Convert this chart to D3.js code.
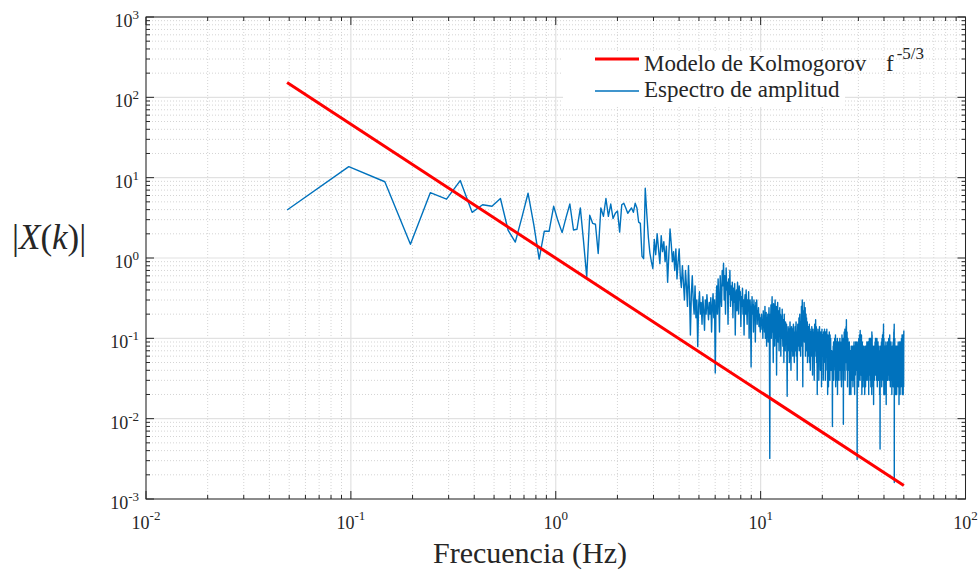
<!DOCTYPE html>
<html><head><meta charset="utf-8">
<script src="https://cdn.jsdelivr.net/npm/d3@7"></script>
<style>
body{margin:0;background:#fff}
text{font-family:"Liberation Serif","Times New Roman",serif;fill:#262626}
</style>
</head><body>
<svg id="chart" width="980" height="571"></svg>
<script>
// ---- data ----
const sampleRate = 100, nfft = 2048;   // frequency step = sampleRate / nfft
const amplitude = [
3.96,13.7,8.9,1.48,6.5,5.4,9.2,3.7,4.6,4.4,
5.5,2.2,1.58,3.2,6.4,2.6,0.97,2.15,2.15,4.4,
2.9,2.07,3.2,4.7,2.23,2.28,4.2,1.6,0.585,3.4,
2.7,2.63,1.14,4.2,3.3,5.5,3.3,4.7,3.1,3.6,
3.85,2.1,4.6,4.8,4.2,3.6,3.9,4.2,3.7,4.8,
4.2,2.8,2.7,1.05,0.98,7.4,3.5,1.8,1.15,0.9,
0.74,1.7,1.1,2.0,1.3,0.85,1.9,1.2,1.6,0.9,
1.4,0.5,1.1,2.3,1.5,0.9,1.2,0.7,1.3,0.55,
0.9,1.3,0.6,0.43,0.8,0.5,0.3,0.7,0.45,0.25,
0.8,0.4,0.11,0.35,0.6,0.3,0.2,0.45,0.18,0.3,
0.079,0.25,0.38,0.2,0.28,0.15,0.33,0.22,0.126,0.3,
0.2,0.35,0.24,0.17,0.28,0.2,0.32,0.12,0.25,0.36,
0.18,0.3,0.037,0.25,0.45,0.2,0.55,0.3,0.12,0.6,
0.35,0.25,0.7,0.45,0.86,0.3,0.6,0.2,0.75,0.4,
0.5,0.15,0.55,0.35,0.7,0.25,0.45,0.3,0.5,0.18,
0.42,0.28,0.48,0.11,0.35,0.4,0.22,0.5,0.3,0.2,
0.45,0.3,0.38,0.14,0.33,0.25,0.42,0.2,0.3,0.11,
0.28,0.35,0.2,0.4,0.25,0.15,0.3,0.22,0.38,0.1,
0.26,0.3,0.18,0.044,0.22,0.33,0.2,0.26,0.12,0.3,
0.18,0.25,0.09,0.28,0.2,0.3,0.15,0.22,0.17,0.24,
0.14,0.2,0.16,0.12,0.18,0.15,0.2,0.13,0.17,0.1,
0.22,0.14,0.19,0.12,0.25,0.1,0.16,0.21,0.08,0.18,
0.13,0.2,0.09,0.15,0.24,0.11,0.0032,0.2,0.14,0.26,
0.1,0.22,0.33,0.12,0.18,0.05,0.27,0.15,0.2,0.08,
0.3,0.17,0.1,0.25,0.035,0.2,0.13,0.28,0.09,0.18,
0.22,0.07,0.16,0.24,0.11,0.2,0.06,0.15,0.19,0.1,
0.23,0.12,0.08,0.17,0.14,0.05,0.2,0.1,0.13,0.07,
0.16,0.11,0.09,0.15,0.06,0.019,0.12,0.08,0.14,0.1,
0.07,0.13,0.05,0.11,0.16,0.08,0.12,0.04,0.1,0.14,
0.07,0.09,0.13,0.06,0.11,0.15,0.08,0.1,0.05,0.12,
0.09,0.14,0.07,0.1,0.16,0.06,0.12,0.09,0.03,0.11,
0.15,0.08,0.13,0.1,0.18,0.07,0.12,0.2,0.09,0.14,
0.06,0.16,0.11,0.25,0.08,0.15,0.3,0.12,0.025,0.18,
0.1,0.22,0.14,0.28,0.09,0.17,0.12,0.24,0.06,0.15,
0.2,0.1,0.18,0.07,0.13,0.16,0.05,0.12,0.09,0.14,
0.06,0.11,0.08,0.15,0.05,0.1,0.13,0.04,0.09,0.12,
0.07,0.1,0.06,0.14,0.08,0.11,0.035,0.09,0.13,0.06,
0.1,0.07,0.12,0.03,0.09,0.15,0.06,0.11,0.08,0.17,
0.07,0.1,0.14,0.05,0.12,0.08,0.02,0.11,0.07,0.13,
0.06,0.09,0.12,0.03,0.1,0.07,0.14,0.06,0.09,0.11,
0.04,0.08,0.12,0.06,0.1,0.025,0.09,0.13,0.07,0.1,
0.06,0.11,0.08,0.03,0.09,0.12,0.06,0.1,0.07,0.13,
0.05,0.09,0.11,0.03,0.08,0.12,0.04,0.1,0.07,0.09,
0.13,0.06,0.1,0.08,0.02,0.11,0.07,0.09,0.025,0.08,
0.1,0.06,0.12,0.07,0.09,0.03,0.11,0.08,0.06,0.1,
0.04,0.06,0.05,0.07,0.04,0.06,0.05,0.03,0.008,0.05,
0.07,0.04,0.08,0.05,0.09,0.03,0.06,0.04,0.08,0.05,
0.1,0.05,0.07,0.06,0.11,0.025,0.08,0.05,0.07,0.09,
0.05,0.08,0.03,0.06,0.1,0.02,0.07,0.09,0.04,0.06,
0.08,0.05,0.09,0.03,0.07,0.04,0.08,0.05,0.1,0.04,
0.06,0.09,0.05,0.07,0.03,0.06,0.09,0.025,0.08,0.05,
0.11,0.05,0.07,0.09,0.04,0.08,0.03,0.1,0.0085,0.06,
0.09,0.05,0.08,0.12,0.04,0.1,0.07,0.13,0.03,0.09,
0.06,0.11,0.06,0.09,0.14,0.05,0.17,0.06,0.1,0.04,
0.12,0.06,0.09,0.025,0.07,0.1,0.05,0.08,0.04,0.06,
0.08,0.04,0.07,0.05,0.09,0.02,0.06,0.05,0.07,0.03,
0.05,0.07,0.04,0.06,0.02,0.05,0.08,0.03,0.06,0.07,
0.04,0.06,0.03,0.08,0.035,0.06,0.07,0.025,0.08,0.05,
0.06,0.035,0.07,0.05,0.09,0.03,0.06,0.08,0.02,0.05,
0.08,0.05,0.07,0.035,0.06,0.09,0.04,0.06,0.08,0.04,
0.07,0.05,0.09,0.04,0.05,0.0031,0.04,0.07,0.03,0.08,
0.04,0.06,0.09,0.05,0.07,0.025,0.1,0.06,0.08,0.04,
0.07,0.11,0.05,0.08,0.1,0.03,0.125,0.06,0.09,0.05,
0.1,0.07,0.035,0.09,0.06,0.11,0.05,0.08,0.02,0.07,
0.06,0.09,0.04,0.07,0.08,0.03,0.07,0.025,0.06,0.08,
0.04,0.06,0.05,0.08,0.03,0.06,0.07,0.04,0.06,0.02,
0.05,0.07,0.035,0.06,0.08,0.025,0.06,0.05,0.08,0.04,
0.06,0.03,0.07,0.05,0.06,0.09,0.035,0.07,0.05,0.07,
0.05,0.08,0.03,0.06,0.09,0.05,0.07,0.06,0.09,0.02,
0.07,0.05,0.08,0.06,0.1,0.035,0.07,0.06,0.09,0.05,
0.1,0.06,0.03,0.08,0.06,0.1,0.025,0.07,0.05,0.09,
0.07,0.04,0.1,0.02,0.12,0.06,0.11,0.07,0.03,0.06,
0.07,0.035,0.06,0.05,0.08,0.025,0.06,0.07,0.015,0.05,
0.06,0.035,0.08,0.05,0.07,0.03,0.08,0.05,0.06,0.04,
0.09,0.05,0.07,0.035,0.1,0.04,0.07,0.06,0.1,0.05,
0.08,0.06,0.09,0.03,0.08,0.05,0.1,0.04,0.07,0.025,
0.08,0.05,0.07,0.035,0.06,0.09,0.05,0.07,0.03,0.05,
0.07,0.04,0.06,0.05,0.08,0.03,0.05,0.07,0.035,0.02,
0.05,0.06,0.04,0.0042,0.035,0.05,0.07,0.03,0.08,0.05,
0.06,0.08,0.04,0.07,0.05,0.09,0.035,0.07,0.025,0.06,
0.1,0.05,0.07,0.09,0.035,0.11,0.06,0.08,0.05,0.1,
0.07,0.03,0.12,0.06,0.15,0.05,0.09,0.02,0.1,0.06,
0.07,0.035,0.08,0.05,0.07,0.02,0.06,0.08,0.04,0.06,
0.05,0.07,0.03,0.06,0.07,0.04,0.09,0.05,0.06,0.015,
0.05,0.07,0.035,0.08,0.05,0.06,0.03,0.07,0.05,0.04,
0.07,0.05,0.09,0.03,0.06,0.08,0.035,0.06,0.07,0.05,
0.08,0.035,0.06,0.1,0.05,0.08,0.06,0.09,0.03,0.07,
0.05,0.08,0.06,0.11,0.035,0.07,0.09,0.05,0.08,0.025,
0.06,0.08,0.05,0.07,0.03,0.09,0.05,0.07,0.035,0.06,
0.05,0.07,0.03,0.06,0.02,0.05,0.07,0.04,0.08,0.05,
0.06,0.03,0.05,0.08,0.04,0.07,0.05,0.09,0.025,0.06,
0.08,0.05,0.1,0.04,0.12,0.06,0.13,0.05,0.15,0.0016,
0.06,0.09,0.035,0.07,0.1,0.05,0.07,0.03,0.08,0.05,
0.07,0.04,0.06,0.02,0.08,0.035,0.07,0.05,0.07,0.03,
0.06,0.08,0.05,0.07,0.02,0.05,0.07,0.035,0.06,0.05,
0.08,0.03,0.07,0.05,0.08,0.035,0.06,0.05,0.07,0.025,
0.09,0.05,0.07,0.04,0.07,0.03,0.08,0.05,0.06,0.015,
0.08,0.05,0.07,0.035,0.08,0.05,0.09,0.03,0.06,0.05,
0.08,0.02,0.06,0.07,0.04,0.07,0.035,0.09,0.04,0.06,
0.025,0.05,0.08,0.035,0.07,0.05,0.1,0.03,0.07,0.08,
0.05,0.09,0.035,0.11,0.06,0.1,0.02,0.07,0.05,0.09,
0.04,0.08,0.06,0.11,0.03,0.09,0.02,0.07,0.05,0.1,
0.06,0.025,0.08,0.125
];
const kolmogorovFreq = [0.048828, 50];
const kolmogorovAmp  = [152.6, 0.00147];
const xTickExponents = [-2, -1, 0, 1, 2];
const yTickExponents = [-3, -2, -1, 0, 1, 2, 3];
const legendLabels = ["Modelo de Kolmogorov", "Espectro de amplitud"];
const legendColors = ["#ff0000", "#0072bd"];
const xLabel = "Frecuencia (Hz)";

// ---- build ----
const df = sampleRate / nfft;
const spectrum = amplitude.map((a, i) => ({f: (i + 1) * df, a}));
const kolmo = kolmogorovFreq.map((f, i) => ({f, a: kolmogorovAmp[i]}));

const L = 146, R = 965.5, T = 17, B = 499;
const x = d3.scaleLog().domain([1e-2, 1e2]).range([L, R]);
const y = d3.scaleLog().domain([1e-3, 1e3]).range([B, T]);
const svg = d3.select("#chart");

const isMajor = v => Math.abs(Math.log10(v) - Math.round(Math.log10(v))) < 1e-9;
const xAll = x.ticks(), yAll = y.ticks();
const xMinor = xAll.filter(v => !isMajor(v)), xMajor = xAll.filter(isMajor);
const yMinor = yAll.filter(v => !isMajor(v)), yMajor = yAll.filter(isMajor);

// grid
const grid = svg.append("g");
grid.selectAll(".gxm").data(xMinor).join("line")
  .attr("x1", d => x(d)).attr("x2", d => x(d)).attr("y1", T).attr("y2", B)
  .attr("stroke", "#d4d4d4").attr("stroke-width", 1).attr("stroke-dasharray", "1,2");
grid.selectAll(".gym").data(yMinor).join("line")
  .attr("y1", d => y(d)).attr("y2", d => y(d)).attr("x1", L).attr("x2", R)
  .attr("stroke", "#d4d4d4").attr("stroke-width", 1).attr("stroke-dasharray", "1,2");
grid.selectAll(".gxM").data(xMajor).join("line")
  .attr("x1", d => x(d)).attr("x2", d => x(d)).attr("y1", T).attr("y2", B)
  .attr("stroke", "#e1e1e1").attr("stroke-width", 1.2);
grid.selectAll(".gyM").data(yMajor).join("line")
  .attr("y1", d => y(d)).attr("y2", d => y(d)).attr("x1", L).attr("x2", R)
  .attr("stroke", "#e1e1e1").attr("stroke-width", 1.2);

// data lines
svg.append("defs").append("clipPath").attr("id", "clip")
  .append("rect").attr("x", L).attr("y", T).attr("width", R - L).attr("height", B - T);
const line = d3.line().x(d => x(d.f)).y(d => y(d.a));
const plot = svg.append("g").attr("clip-path", "url(#clip)");
plot.append("path").datum(spectrum).attr("d", line)
  .attr("fill", "none").attr("stroke", legendColors[1]).attr("stroke-width", 1.4)
  .attr("stroke-linejoin", "round");
plot.append("path").datum(kolmo).attr("d", line)
  .attr("fill", "none").attr("stroke", legendColors[0]).attr("stroke-width", 3);

// axes box and ticks
const ax = svg.append("g").attr("stroke", "#262626").attr("stroke-width", 1);
ax.append("rect").attr("x", L).attr("y", T).attr("width", R - L).attr("height", B - T).attr("fill", "none");
const tick = (vals, len) => {
  vals.forEach(v => {
    const xv = x(v);
    ax.append("line").attr("x1", xv).attr("x2", xv).attr("y1", B).attr("y2", B - len);
    ax.append("line").attr("x1", xv).attr("x2", xv).attr("y1", T).attr("y2", T + len);
  });
};
const tickY = (vals, len) => {
  vals.forEach(v => {
    const yv = y(v);
    ax.append("line").attr("y1", yv).attr("y2", yv).attr("x1", L).attr("x2", L + len);
    ax.append("line").attr("y1", yv).attr("y2", yv).attr("x1", R).attr("x2", R - len);
  });
};
tick(xMinor, 4); tick(xMajor, 8);
tickY(yMinor, 4); tickY(yMajor, 8);

// tick labels
xTickExponents.forEach(e => {
  const t = svg.append("text").attr("x", x(Math.pow(10, e))).attr("y", 529)
    .attr("text-anchor", "middle").attr("font-size", 18);
  t.append("tspan").text("10");
  t.append("tspan").attr("dy", -9).attr("font-size", 13).text(String(e));
});
yTickExponents.forEach(e => {
  const t = svg.append("text").attr("x", 139).attr("y", y(Math.pow(10, e)) + 10)
    .attr("text-anchor", "end").attr("font-size", 18);
  t.append("tspan").text("10");
  t.append("tspan").attr("dy", -8).attr("font-size", 13).text(String(e));
});

// axis labels
svg.append("text").attr("x", 530).attr("y", 563).attr("text-anchor", "middle")
  .attr("font-size", 30).text(xLabel);
const yl = svg.append("text").attr("x", 12).attr("y", 249).attr("font-size", 35);
yl.append("tspan").text("|");
yl.append("tspan").attr("font-style", "italic").text("X");
yl.append("tspan").text("(");
yl.append("tspan").attr("font-style", "italic").text("k");
yl.append("tspan").text(")");
yl.append("tspan").text("|");

// legend
const lg = svg.append("g");
lg.append("rect").attr("x", 563).attr("y", 52).attr("width", 282).attr("height", 55).attr("fill", "#fff");
const rowLineY = [59, 91], rowTextY = [70.5, 96.5], rowWidth = [3, 1.4];
legendLabels.forEach((lab, i) => {
  lg.append("line").attr("x1", 595).attr("x2", 639).attr("y1", rowLineY[i]).attr("y2", rowLineY[i])
    .attr("stroke", legendColors[i]).attr("stroke-width", rowWidth[i]);
  lg.append("text").attr("x", 644).attr("y", rowTextY[i]).attr("font-size", 23).text(lab);
});
const fx = svg.append("text").attr("x", 886).attr("y", 70.5).attr("font-size", 23);
fx.append("tspan").text("f");
fx.append("tspan").attr("dx", 3).attr("dy", -12).attr("font-size", 17).text("-5/3");
</script>
</body></html>
